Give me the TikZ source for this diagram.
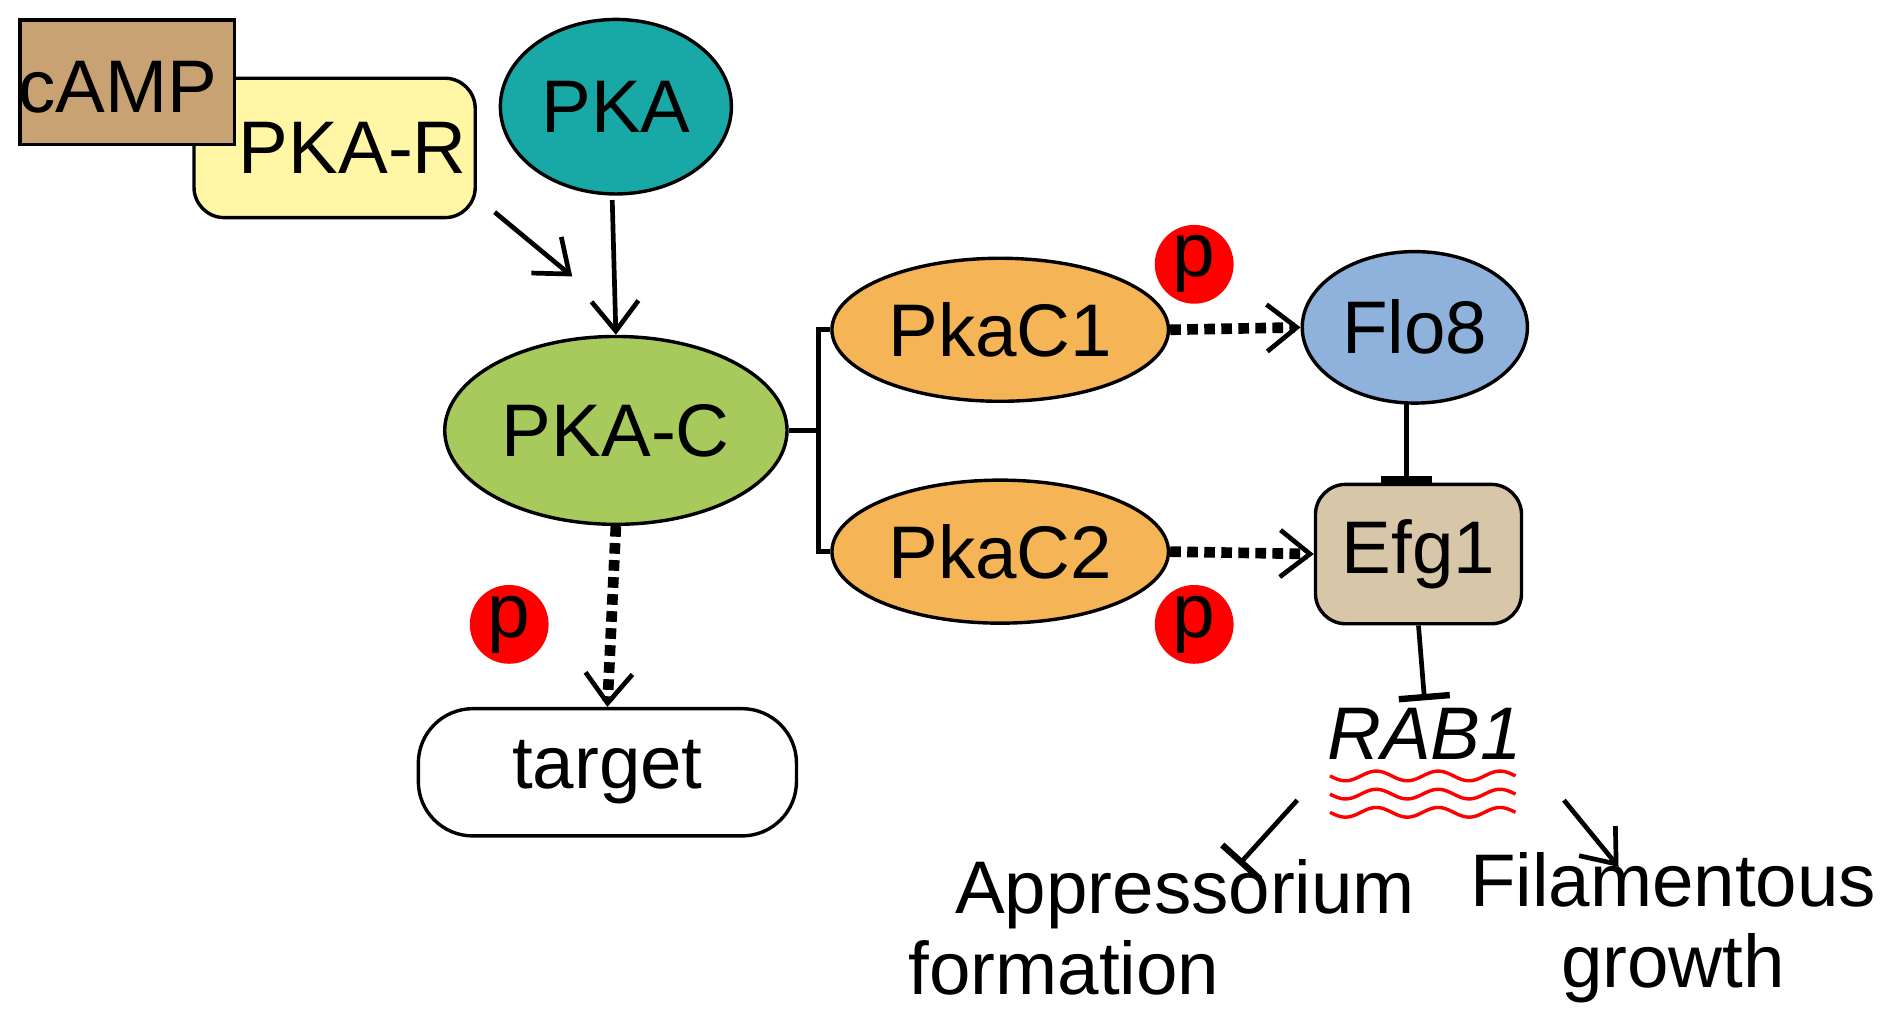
\documentclass[tikz,border=0pt]{standalone}
\usepackage{fontspec}
\setmainfont{Liberation Sans}
\usetikzlibrary{arrows.meta,shapes.geometric}
\definecolor{camp}{HTML}{C9A274}
\definecolor{pkar}{HTML}{FFF6A6}
\definecolor{pka}{HTML}{18A8A6}
\definecolor{pkac}{HTML}{A8CA5C}
\definecolor{orng}{HTML}{F5B557}
\definecolor{flo}{HTML}{8FB2DC}
\definecolor{efg}{HTML}{D8C6A8}
\begin{document}
\begin{tikzpicture}[x=0.02cm,y=-0.02cm,
  lbl/.style={font=\fontsize{35}{38}\selectfont},
  bx/.style={draw,line width=1.6pt,lbl},
  arr/.style={line width=2.2pt,-{Straight Barb[length=14pt,width=22pt,line width=2.2pt]}},
  dar/.style={line width=5pt,dash pattern=on 5pt off 3pt,-{Straight Barb[length=14pt,width=22pt,line width=2.2pt]}},
  inh/.style={line width=2.2pt,-{Bar[width=24pt,line width=3pt]}},
  pp/.style={circle,fill=red,minimum size=1.3cm,inner sep=0pt,font=\fontsize{36}{36}\selectfont}]
\useasboundingbox (0,0) rectangle (1568,836);
\node[bx,fill=pkar,rounded corners=0.5cm,minimum width=4.64cm,minimum height=2.3cm,text depth=0pt] (pkar) at (276,122) {\hspace*{0.6cm}PKA-R};
\node[bx,fill=camp,minimum width=3.54cm,minimum height=2.06cm,anchor=north west,inner sep=0pt] (camp) at (15,15) {};
\node[lbl] at (97,72) {cAMP};
\node[bx,fill=pka,ellipse,minimum width=3.68cm,minimum height=2.88cm] (pka) at (508,88) {PKA};
\node[bx,fill=pkac,ellipse,minimum width=4.4cm,minimum height=3.1cm] (pkac) at (508,355) {PKA-C};
\node[bx,fill=orng,ellipse,minimum width=4.1cm,minimum height=2.36cm] (c1) at (825,272) {PkaC1};
\node[bx,fill=orng,ellipse,minimum width=4.1cm,minimum height=2.36cm] (c2) at (825,455) {PkaC2};
\node[bx,fill=flo,ellipse,minimum width=3.28cm,minimum height=2.5cm] (flo) at (1167,270) {Flo8};
\node[bx,fill=efg,rounded corners=0.5cm,minimum width=3.4cm,minimum height=2.3cm] (efg) at (1170,457) {Efg1};
\node[bx,rounded corners=0.9cm,minimum width=6.24cm,minimum height=2.1cm] (tgt) at (501,637) {target};
\node[pp] (p1) at (985,218) {p};
\node[pp] (p2) at (985,515) {p};
\node[pp] (p3) at (420,515) {p};
\node[lbl,font=\fontsize{35}{38}\selectfont\itshape] (rab) at (1175,605) {RAB1};
\node[lbl,align=center] (app) at (940,765) {\hspace*{1.5cm}Appressorium\\formation\hspace*{2.5cm}};
\node[lbl,align=center] (fil) at (1380,765) {Filamentous\\growth};
% arrows
\coordinate (a1s) at (408,175); \coordinate (a1e) at (472,228);
\draw[arr] (a1s) -- (a1e);
\draw[arr] (505,165) -- (pkac.north);
\draw[line width=2.5pt] (pkac.east) -- (675,355) coordinate (j);
\draw[line width=2.5pt] (c1.west) -| (j) |- (c2.west);
\draw[dar] (c1.east) -- (flo.west);
\draw[dar] (c2.east) -- (efg.west);
\draw[dar] (pkac.south) -- (tgt.north);
\draw[inh] (1160,333) -- (1160,398);
\draw[inh] (efg.south) -- (rab.north);
\coordinate (ws) at (1070,660); \coordinate (we) at (1022,713);
\draw[inh] (ws) -- (we);
\coordinate (fs) at (1290,660); \coordinate (fe) at (1335,715);
\draw[arr] (fs) -- (fe);
\foreach \yy in {640,655,670}
  \draw[red,line width=1.6pt,domain=0:153,samples=80] plot ({1097+\x},{\yy+4*sin(7.06*\x)});
\end{tikzpicture}
\end{document}
